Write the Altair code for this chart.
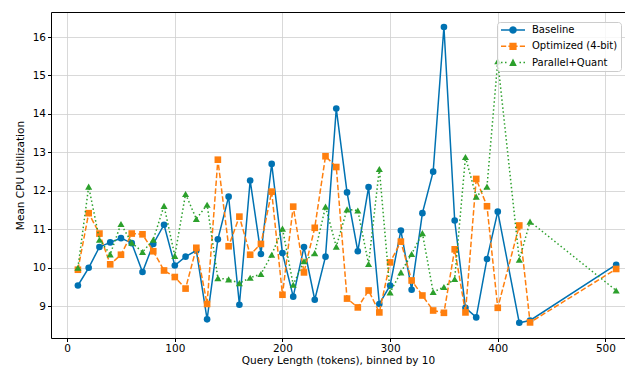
import altair as alt
import pandas as pd

x_bins = [10, 20, 30, 40, 50, 60, 70, 80, 90, 100,
          110, 120, 130, 140, 150, 160, 170, 180, 190, 200,
          210, 220, 230, 240, 250, 260, 270, 280, 290, 300,
          310, 320, 330, 340, 350, 360, 370, 380, 390, 400,
          420, 430, 510]

baseline = [9.54, 10.00, 10.54, 10.66, 10.77, 10.64, 9.89, 10.62, 11.12, 10.06,
            10.29, 10.45, 8.66, 10.74, 11.85, 9.04, 12.27, 10.36, 12.70, 10.38,
            9.25, 10.54, 9.17, 10.29, 14.14, 11.96, 10.43, 12.10, 9.06, 9.54,
            10.97, 9.43, 11.42, 12.50, 16.26, 11.23, 8.96, 8.71, 10.23, 11.46,
            8.57, 8.63, 10.08]

optimized = [9.95, 11.42, 10.89, 10.09, 10.34, 10.89, 10.87, 10.43, 9.93, 9.76,
             9.46, 10.52, 9.06, 12.81, 10.56, 11.33, 10.34, 10.62, 11.98, 9.30,
             11.59, 9.88, 11.04, 12.90, 12.62, 9.20, 8.97, 9.41, 8.84, 10.14,
             10.68, 9.67, 9.28, 8.89, 8.83, 10.48, 8.84, 12.31, 11.60, 8.96,
             11.10, 8.58, 9.97]

parallel = [10.00, 12.11, 10.73, 10.35, 11.14, 10.65, 10.41, 10.73, 11.61, 10.31,
            11.92, 11.27, 11.64, 9.73, 9.70, 9.60, 9.74, 9.84, 10.34, 11.02,
            9.56, 10.17, 10.38, 11.59, 10.55, 11.52, 11.49, 10.10, 12.57, 9.36,
            9.88, 10.36, 10.90, 9.37, 9.50, 9.71, 12.88, 11.85, 12.11, 15.37,
            10.21, 11.20, 9.41]

series_names = ["Baseline", "Optimized (4-bit)", "Parallel+Quant"]
series_colors = ["#0072B2", "#FF7F0E", "#2CA02C"]
x_ticks = [0, 100, 200, 300, 400, 500]
y_ticks = [9, 10, 11, 12, 13, 14, 15, 16]

rows = []
for name, vals in zip(series_names, [baseline, optimized, parallel]):
    for xv, yv in zip(x_bins, vals):
        rows.append({"x": xv, "y": yv, "series": name})
df = pd.DataFrame(rows)

# legend symbols: line + marker as filled custom paths (unit = 4 px)
p_base = ("M-1,-0.19H5V0.19H-1Z"
          "M2.95,0L2.823,0.475L2.475,0.823L2.0,0.95L1.525,0.823L1.177,0.475L1.05,0"
          "L1.177,-0.475L1.525,-0.823L2.0,-0.95L2.475,-0.823L2.823,-0.475Z")
p_opt = ("M-1,-0.19H0.3V0.19H-1Z"
         "M0.85,-0.19H3.15V0.19H0.85Z"
         "M3.7,-0.19H5V0.19H3.7Z"
         "M1.1,-0.9H2.9V0.9H1.1Z")
p_par = ("M-1,-0.19H-0.625V0.19H-1Z"
         "M0,-0.19H0.375V0.19H0Z"
         "M3.625,-0.19H4.0V0.19H3.625Z"
         "M4.625,-0.19H5.0V0.19H4.625Z"
         "M2.0,-1.05L2.95,0.85L1.05,0.85Z")
legend_paths = [p_base, p_opt, p_par]

legend = alt.Legend(
    title=None, orient="none", legendX=446, legendY=10, direction="vertical",
    fillColor="rgba(255,255,255,0.8)", strokeColor="#cccccc", cornerRadius=3, padding=3,
    labelFont="DejaVu Sans", labelFontSize=10, labelColor="black",
    symbolSize=64, symbolStrokeWidth=0, symbolOpacity=1, labelOffset=22, rowPadding=6.3,
)

xscale = alt.Scale(domain=[-15, 518.2], nice=False, zero=False)
X = alt.X("x:Q", title="Query Length (tokens), binned by 10", scale=xscale,
          axis=alt.Axis(values=x_ticks, format="d", titlePadding=1))
X_top = alt.X("x:Q", title=None, scale=xscale,
              axis=alt.Axis(orient="top", labels=False, ticks=False, grid=False,
                            domain=True, domainColor="black"))
Y = alt.Y("y:Q", title="Mean CPU Utilization",
          scale=alt.Scale(domain=[8.175, 16.65], nice=False, zero=False),
          axis=alt.Axis(values=y_ticks, format="d", titlePadding=7))
# data-driven (alphabetical) domain, so it is kept apart from the legend's scales
C = alt.Color("series:N", scale=alt.Scale(range=series_colors), legend=None)

base = alt.Chart(df)
dashes = [None, [5.5, 2.4], [1.5, 2.5]]
shapes = ["circle", "square", "triangle-up"]
sizes = [44, 44, 50]
layers = []
for name, dash, shp, sz in zip(series_names, dashes, shapes, sizes):
    sub = base.transform_filter(alt.datum.series == name)
    if dash is None:
        line = sub.mark_line(strokeWidth=1.5)
    else:
        line = sub.mark_line(strokeWidth=1.5, strokeDash=dash)
    layers.append(line.encode(x=X, y=Y, color=C))
    layers.append(sub.mark_point(filled=True, shape=shp, size=sz, opacity=1)
                  .encode(x=X, y=Y, color=C))
data_layers = alt.layer(*layers)

# invisible layer that carries the legend and the top frame line
legend_layer = base.mark_point(filled=True, opacity=0).encode(
    x=X_top, y=Y,
    fill=alt.Fill("series:N", scale=alt.Scale(domain=series_names, range=series_colors), legend=legend),
    shape=alt.Shape("series:N", scale=alt.Scale(domain=series_names, range=legend_paths), legend=legend),
)

chart = alt.layer(data_layers, legend_layer).resolve_axis(x="independent").properties(
    width=574, height=326,
    padding={"left": 43, "top": 4, "right": 0, "bottom": 28},
    autosize=alt.AutoSizeParams(type="none"),
).configure_view(
    stroke=None
).configure_axis(
    labelFont="DejaVu Sans", titleFont="DejaVu Sans",
    labelFontSize=10.5, titleFontSize=10.5, titleFontWeight="normal",
    labelColor="black", titleColor="black",
    tickColor="black", domainColor="black", tickSize=3.5, labelPadding=2,
    gridColor="#cfcfcf", gridWidth=0.8,
)

chart.save("out.html", embed_options={"renderer": "svg", "actions": False})
